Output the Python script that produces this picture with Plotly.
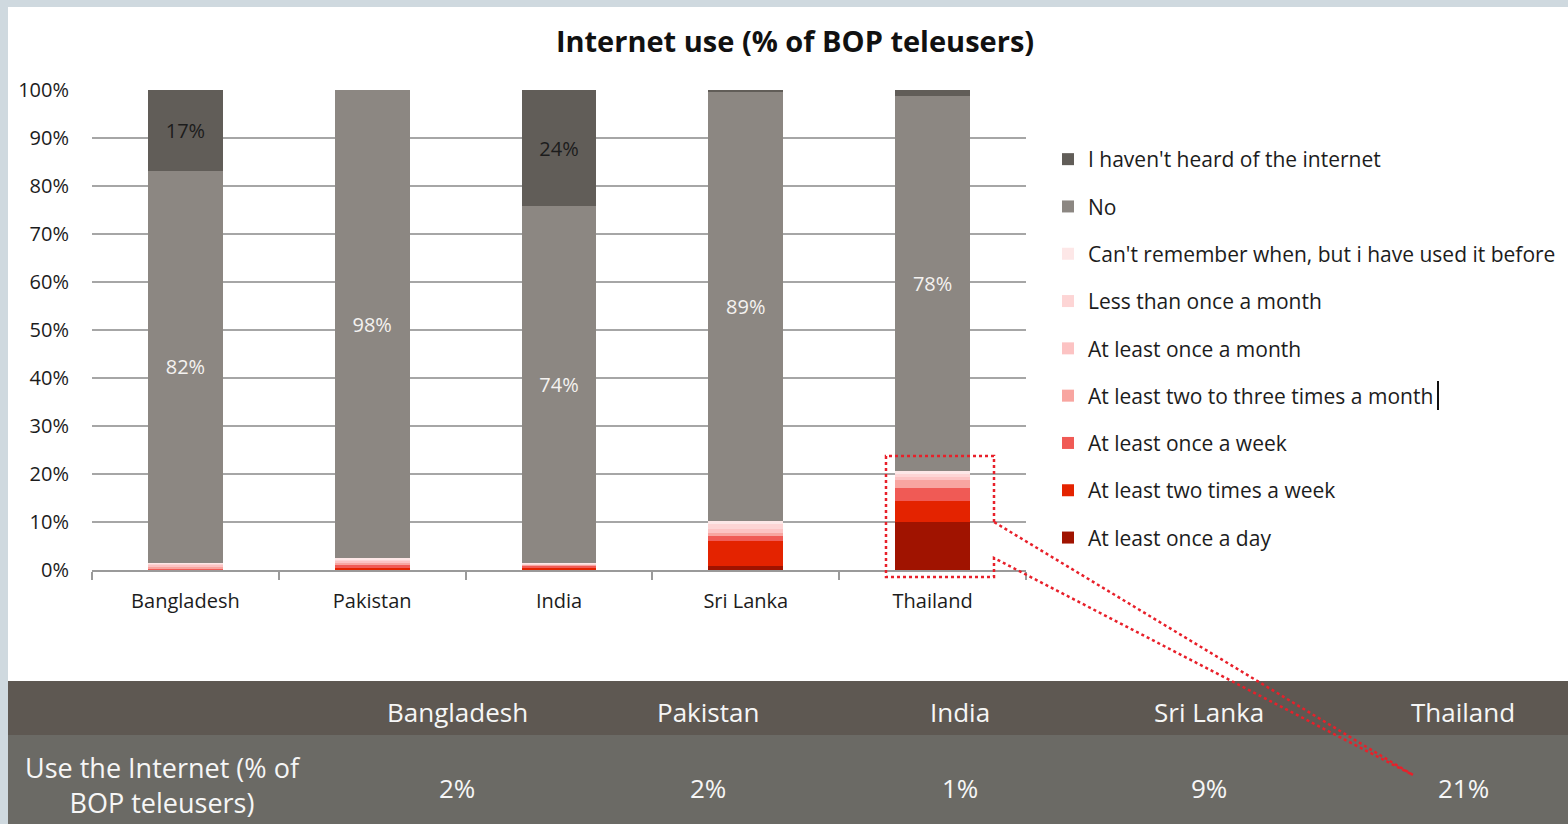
import plotly.graph_objects as go

W, H = 1568, 824

def px(x):
    return x / W

def py(y):
    return 1 - y / H

countries = ["Bangladesh", "Pakistan", "India", "Sri Lanka", "Thailand"]

# stacked from bottom to top (values in %)
series_names = [
    "At least once a day",
    "At least two times a week",
    "At least once a week",
    "At least two to three times a month",
    "At least once a month",
    "Less than once a month",
    "Can't remember when, but i have used it before",
    "No",
    "I haven't heard of the internet",
]
once_a_day = [0.1, 0.2, 0.1, 0.8, 10.0]
two_times_week = [0.1, 0.3, 0.3, 5.2, 4.4]
once_a_week = [0.2, 0.7, 0.5, 1.0, 2.6]
two_three_month = [0.4, 0.4, 0.2, 0.8, 1.7]
once_a_month = [0.3, 0.3, 0.1, 0.8, 0.7]
less_than_month = [0.2, 0.3, 0.1, 0.9, 0.7]
cant_remember = [0.2, 0.2, 0.1, 0.7, 0.5]
no_use = [81.6, 97.6, 74.4, 89.3, 78.2]
never_heard = [16.9, 0.0, 24.2, 0.5, 1.2]

no_labels = ["82%", "98%", "74%", "89%", "78%"]
never_heard_labels = ["17%", "", "24%", "", ""]

table_label = "Use the Internet (% of<br>BOP teleusers)"
table_values = ["2%", "2%", "1%", "9%", "21%"]

colors = ["#a01300", "#e42300", "#f05a55", "#f8a5a0", "#fcc3c3",
          "#fdd5d5", "#fde7e7", "#8c8782", "#615d58"]

series_values = [once_a_day, two_times_week, once_a_week, two_three_month,
                 once_a_month, less_than_month, cant_remember, no_use, never_heard]

FONT = "Open Sans"
DARK = "#1c1c1c"

fig = go.Figure()
n = len(series_names)
for i, (name, vals, col) in enumerate(zip(series_names, series_values, colors)):
    text = None
    tcol = DARK
    if name == "No":
        text = no_labels
        tcol = "#f4f2f0"
    elif name.startswith("I haven't"):
        text = never_heard_labels
        tcol = DARK
    fig.add_trace(go.Bar(
        x=countries, y=[v / 100 for v in vals], name=name,
        marker=dict(color=col, line=dict(width=0)),
        width=0.4,
        text=text,
        textposition="inside" if text else "none",
        insidetextanchor="middle",
        textangle=0,
        constraintext="none",
        textfont=dict(family=FONT, size=20, color=tcol),
        legendgroup=str(i),
        legendrank=n - i,
        hoverinfo="x+y+name",
    ))

shapes = []
# page background (white panel)
shapes.append(dict(type="rect", xref="paper", yref="paper",
                   x0=px(8), x1=1, y0=py(681), y1=py(7),
                   fillcolor="white", line=dict(width=0), layer="below"))
# table rows
shapes.append(dict(type="rect", xref="paper", yref="paper",
                   x0=px(8), x1=1, y0=py(735), y1=py(681),
                   fillcolor="#5e5852", line=dict(width=0)))
shapes.append(dict(type="rect", xref="paper", yref="paper",
                   x0=px(8), x1=1, y0=0, y1=py(735),
                   fillcolor="#6b6a65", line=dict(width=0)))

# dotted callout around the Thailand internet users
pts = [(994, 522), (994, 456), (886, 456), (886, 577), (994, 577), (994, 558),
       (1413, 775), (994, 522)]
path = "M " + " L ".join(f"{px(x):.5f},{py(y):.5f}" for x, y in pts)
shapes.append(dict(type="path", xref="paper", yref="paper", path=path,
                   line=dict(color="#e8202a", width=2.5, dash="dot")))
# text cursor artefact in legend
shapes.append(dict(type="line", xref="paper", yref="paper",
                   x0=px(1438), x1=px(1438), y0=py(410), y1=py(381),
                   line=dict(color="#111111", width=2)))

annotations = []
col_centers = [457, 708, 960, 1209, 1463]
for c, xc in zip(countries, col_centers):
    annotations.append(dict(xref="paper", yref="paper", x=px(xc), y=py(712),
                            text=c, showarrow=False, xanchor="center", yanchor="middle",
                            font=dict(family=FONT, size=26, color="#f6f6f6")))
for v, xc in zip(table_values, col_centers):
    annotations.append(dict(xref="paper", yref="paper", x=px(xc), y=py(788),
                            text=v, showarrow=False, xanchor="center", yanchor="middle",
                            font=dict(family=FONT, size=26, color="#f6f6f6")))
annotations.append(dict(xref="paper", yref="paper", x=px(163), y=py(785),
                        text=table_label, showarrow=False, xanchor="center",
                        yanchor="middle", align="center",
                        font=dict(family=FONT, size=27, color="#f6f6f6")))

fig.update_layout(
    width=W, height=H,
    autosize=False,
    margin=dict(l=0, r=0, t=0, b=0, pad=0, autoexpand=False),
    paper_bgcolor="#cfd9df",
    plot_bgcolor="white",
    barmode="stack",
    bargap=0.6,
    title=dict(text="<b>Internet use (% of BOP teleusers)</b>", x=px(795), y=py(42),
               xref="paper", yref="paper", xanchor="center", yanchor="middle",
               font=dict(family=FONT, size=29, color="#111111")),
    xaxis=dict(domain=[px(92), px(1026)], showline=True, linecolor="#9a9a9a",
               linewidth=1.5, ticks="outside", tickson="boundaries", ticklen=8,
               tickcolor="#9a9a9a", tickwidth=1.5, showgrid=False,
               tickfont=dict(family=FONT, size=20, color=DARK),
               ticklabelstandoff=12),
    yaxis=dict(domain=[py(570), py(90)], range=[0, 1], tickformat=".0%",
               dtick=0.1, showgrid=True, gridcolor="#a6a6a6", gridwidth=1.5,
               zeroline=False, showline=False, ticks="",
               tickfont=dict(family=FONT, size=20, color=DARK),
               ticklabelstandoff=22),
    legend=dict(x=px(1048), y=py(139), xanchor="left", yanchor="top",
                traceorder="grouped", tracegroupgap=17,
                font=dict(family=FONT, size=21, color=DARK),
                bgcolor="rgba(0,0,0,0)", itemwidth=30),
    shapes=shapes,
    annotations=annotations,
    showlegend=True,
)

post = ("document.body.style.margin='0';document.body.style.overflow='hidden';"
        "var gd=document.getElementById('{plot_id}');gd.style.position='fixed';"
        "gd.style.top='0px';gd.style.left='0px';")
fig.write_html("out.html", post_script=post, config={"displayModeBar": False})
